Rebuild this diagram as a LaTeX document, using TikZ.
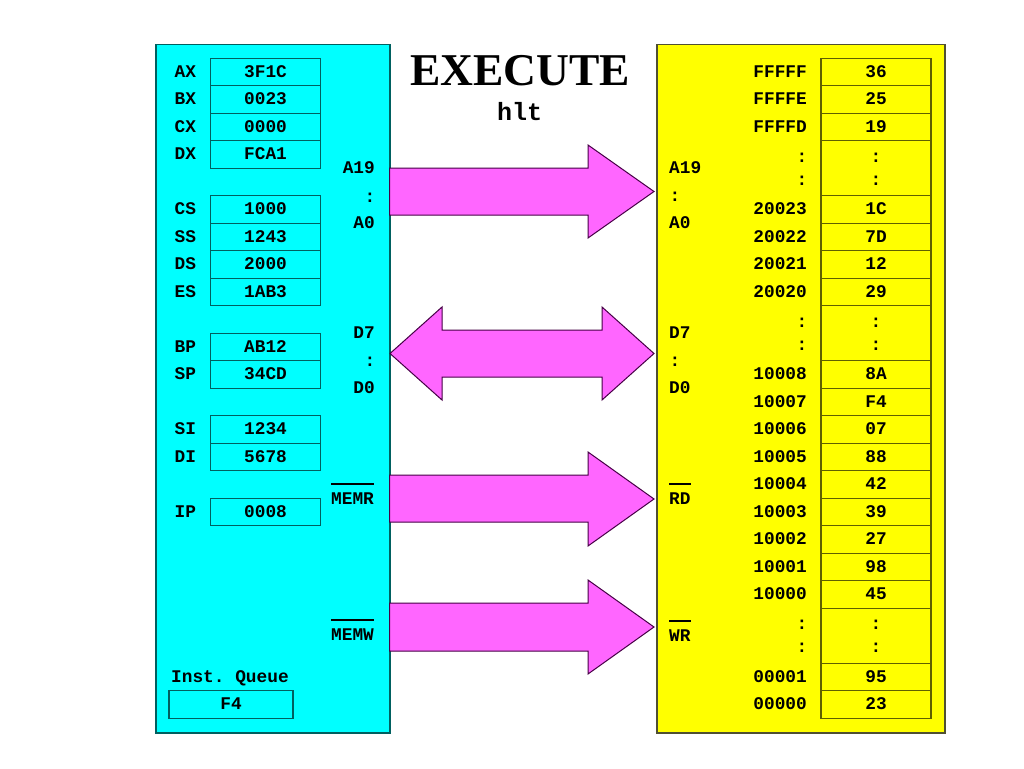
\documentclass[tikz,border=0pt]{standalone}
\usepackage{fontspec}
\setmainfont{Liberation Serif}
\setmonofont{Liberation Mono}
\definecolor{cyanfill}{RGB}{0,255,255}
\definecolor{cyanline}{RGB}{0,96,96}
\definecolor{yelfill}{RGB}{255,255,0}
\definecolor{yelline}{RGB}{96,96,0}
\definecolor{yelouter}{RGB}{80,80,50}
\definecolor{arrfill}{RGB}{255,102,255}
\definecolor{arrline}{RGB}{70,0,70}
\begin{document}
\begin{tikzpicture}[x=1pt,y=-1pt,
  txt/.style={font=\ttfamily\bfseries\fontsize{17.8}{20}\selectfont, inner sep=0pt, text height=10.2pt, text depth=0pt},
  cell/.style={txt, draw=#1, line width=1.2pt, minimum width=110pt, minimum height=27.5pt},
  outerbox/.style={draw=#1, line width=1.5pt, inner sep=0pt, anchor=north west},
  blockarrow/.style={fill=arrfill, draw=arrline, line width=1pt, line join=miter},
  barline/.style={line width=1.3pt, draw=black}
]
\useasboundingbox (0,0) rectangle (1024,768);
\fill[white] (0,0) rectangle (1024,768);

% outer boxes
\node[outerbox=cyanline, fill=cyanfill, minimum width=234pt, minimum height=688pt] (cpu) at (155,44) {};
\node[outerbox=yelouter, fill=yelfill, minimum width=288pt, minimum height=688pt] (mem) at (656,44) {};

% title
\node[font=\fontsize{45.5}{50}\selectfont\bfseries, inner sep=0pt, anchor=base] (title) at (520,85) {EXECUTE};
\node[font=\ttfamily\bfseries\fontsize{25}{28}\selectfont, inner sep=0pt, anchor=base] (instr) at (519.5,120) {hlt};

% registers
\foreach \lab/\val/\i in {AX/3F1C/0, BX/0023/1, CX/0000/2, DX/FCA1/3, CS/1000/5, SS/1243/6, DS/2000/7, ES/1AB3/8, BP/AB12/10, SP/34CD/11, SI/1234/13, DI/5678/14, IP/0008/16}{
  \node[cell=cyanline] (r\lab) at (265.5, {72.05+27.5*\i}) {\val};
  \node[txt, anchor=west] (l\lab) at (174.5, {72.05+27.5*\i}) {\lab};
}

% instruction queue
\node[txt, anchor=west] (iqlab) at (171,677) {Inst. Queue};
\node[cell=cyanline, minimum width=124pt] (iq) at (231,704.55) {F4};

% memory cells
\foreach \adr/\val/\i in {FFFFF/36/0, FFFFE/25/1, FFFFD/19/2, 20023/1C/5, 20022/7D/6, 20021/12/7, 20020/29/8, 10008/8A/11, 10007/F4/12, 10006/07/13, 10005/88/14, 10004/42/15, 10003/39/16, 10002/27/17, 10001/98/18, 10000/45/19, 00001/95/22, 00000/23/23}{
  \node[cell=yelline] (m\adr) at (876, {72.05+27.5*\i}) {\val};
  \node[txt, anchor=east] (a\adr) at (807, {72.05+27.5*\i}) {\adr};
}
\foreach \k/\i in {1/3, 2/9, 3/20}{
  \node[cell=yelline, minimum height=55pt] (md\k) at (876, {58.3+27.5*(\i+1)}) {};
  \node[txt] (mdc\k a) at (876, {58.3+27.5*(\i+1)-11}) {:};
  \node[txt] (mdc\k b) at (876, {58.3+27.5*(\i+1)+12}) {:};
  \node[txt] (adc\k a) at (802, {58.3+27.5*(\i+1)-11}) {:};
  \node[txt] (adc\k b) at (802, {58.3+27.5*(\i+1)+12}) {:};
}

% CPU bus labels
\node[txt, anchor=east] (ca19) at (375,168) {A19};
\node[txt] (cac) at (370,197) {:};
\node[txt, anchor=east] (ca0) at (375,223) {A0};
\node[txt, anchor=east] (cd7) at (375,333) {D7};
\node[txt] (cdc) at (370,361) {:};
\node[txt, anchor=east] (cd0) at (375,388) {D0};
\node[txt, anchor=west] (cmemr) at (331,499) {MEMR};
\node[txt, anchor=west] (cmemw) at (331,635) {MEMW};
\draw[barline] ([yshift=9.7pt]cmemr.north west) -- ([yshift=9.7pt]cmemr.north east);
\draw[barline] ([yshift=9.7pt]cmemw.north west) -- ([yshift=9.7pt]cmemw.north east);

% memory bus labels
\node[txt, anchor=west] (ma19) at (669,168) {A19};
\node[txt] (mac) at (675,196) {:};
\node[txt, anchor=west] (ma0) at (669,223) {A0};
\node[txt, anchor=west] (md7) at (669,333) {D7};
\node[txt] (mdc) at (675,361) {:};
\node[txt, anchor=west] (md0) at (669,388) {D0};
\node[txt, anchor=west] (mrd) at (669,499) {RD};
\node[txt, anchor=west] (mwr) at (669,636) {WR};
\draw[barline] ([yshift=9.7pt]mrd.north west) -- ([yshift=9.7pt]mrd.north east);
\draw[barline] ([yshift=9.7pt]mwr.north west) -- ([yshift=9.7pt]mwr.north east);

% bus arrows
\draw[blockarrow] (389.5,168) -- (588,168) -- (588,145) -- (654,191.5) -- (588,238) -- (588,215) -- (389.5,215) -- cycle;
\draw[blockarrow] (390,353.5) -- (442,307) -- (442,330) -- (602,330) -- (602,307) -- (654,353.5) -- (602,400) -- (602,377) -- (442,377) -- (442,400) -- cycle;
\draw[blockarrow] (389.5,475) -- (588,475) -- (588,452) -- (654,499) -- (588,546) -- (588,522) -- (389.5,522) -- cycle;
\draw[blockarrow] (389.5,603) -- (588,603) -- (588,580) -- (654,627) -- (588,674) -- (588,651) -- (389.5,651) -- cycle;
\end{tikzpicture}
\end{document}
